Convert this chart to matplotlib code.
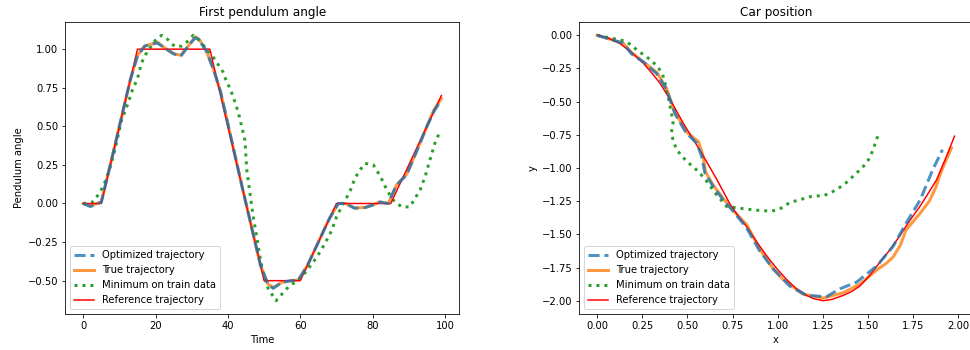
import matplotlib
matplotlib.use("Agg")
import matplotlib.pyplot as plt

# ---------------- Left panel: first pendulum angle ----------------
ref_t = [0, 5, 15, 35, 50, 60, 70, 85, 99]
ref_angle = [0, 0, 1, 1, -0.5, -0.5, 0, 0, 0.7]

opt_t = [0, 2, 5, 8, 10, 13, 15, 17, 18.5, 20.5, 23, 25, 27, 29, 31, 32, 34, 36,
         38, 41, 44, 47, 49, 51, 52.5, 55, 57.5, 59.5, 62, 65, 68, 70.5, 72.5, 75,
         78, 80, 82, 84.3, 86.6, 89.4, 92, 95, 97, 99]
opt_angle = [0, -0.02, 0.01, 0.3, 0.5, 0.8, 0.957, 1.02, 1.03, 1.04, 1.0, 0.97,
             0.955, 1.02, 1.075, 1.06, 0.99, 0.87, 0.72, 0.41, 0.1, -0.2, -0.4,
             -0.52, -0.55, -0.51, -0.5, -0.495, -0.4, -0.25, -0.1, 0.0, 0.0, -0.03,
             -0.026, -0.01, 0.01, 0.0, 0.12, 0.185, 0.33, 0.5, 0.6, 0.67]

true_t = opt_t
true_angle = [0, -0.015, 0.01, 0.3, 0.5, 0.8, 0.96, 1.02, 1.03, 1.045, 1.0, 0.97,
              0.96, 1.02, 1.08, 1.065, 0.99, 0.87, 0.72, 0.41, 0.1, -0.2, -0.4,
              -0.52, -0.545, -0.51, -0.5, -0.495, -0.4, -0.25, -0.1, 0.0, 0.0, -0.03,
              -0.025, -0.01, 0.01, 0.0, 0.12, 0.19, 0.33, 0.5, 0.61, 0.68]

min_t = [0, 2.3, 4.1, 5.5, 7, 8.8, 10.6, 12.4, 13.8, 14.9, 16.1, 17.3, 19.8, 21.7,
         23.5, 25.3, 27.2, 29, 30.4, 31.8, 34.1, 36, 37.3, 38.7, 39.6, 40.7, 41.9,
         42.9, 43.8, 44.7, 45.2, 46.1, 47, 48, 48.9, 49.8, 51.1, 53.3, 55.3, 57.1,
         59.4, 61.8, 64.5, 66.8, 68.7, 70, 71.9, 73.7, 75.1, 76.5, 77.9, 80.2,
         81.6, 82.9, 83.9, 85.7, 88, 90.3, 91.7, 93.1, 94.5, 95.8, 97.2, 98.6]
min_angle = [0, 0.004, 0.054, 0.109, 0.2, 0.35, 0.54, 0.65, 0.75, 0.8, 0.91, 0.967,
             1.054, 1.09, 1.06, 1.017, 1.02, 1.054, 1.09, 1.065, 1.0, 0.946, 0.9,
             0.85, 0.79, 0.74, 0.66, 0.587, 0.5, 0.41, 0.22, 0.065, -0.087, -0.22,
             -0.35, -0.46, -0.55, -0.63, -0.577, -0.53, -0.5, -0.435, -0.35, -0.26,
             -0.174, -0.087, 0.0, 0.076, 0.163, 0.217, 0.26, 0.25, 0.196, 0.141,
             0.087, 0.022, -0.022, -0.022, 0.033, 0.087, 0.174, 0.28, 0.39, 0.467]

# ---------------- Right panel: car position ----------------
ref_x = [0, 0.06, 0.126, 0.19, 0.255, 0.30, 0.347, 0.40, 0.48, 0.578, 0.66, 0.735,
         0.78, 0.827, 0.88, 0.938, 0.99, 1.049, 1.10, 1.16, 1.2, 1.252, 1.30,
         1.363, 1.41, 1.455, 1.51, 1.566, 1.62, 1.677, 1.73, 1.788, 1.83, 1.88,
         1.93, 1.98]
ref_y = [0, -0.02, -0.0625, -0.13, -0.21, -0.28, -0.36, -0.475, -0.67, -0.887,
         -1.08, -1.27, -1.36, -1.44, -1.55, -1.66, -1.75, -1.84, -1.905, -1.96,
         -1.985, -2.0, -1.99, -1.96, -1.93, -1.89, -1.81, -1.71, -1.62, -1.51,
         -1.40, -1.29, -1.20, -1.09, -0.93, -0.76]

opt_x = [0, 0.144, 0.19, 0.255, 0.33, 0.384, 0.43, 0.495, 0.55, 0.578, 0.597,
         0.643, 0.698, 0.753, 0.827, 0.90, 0.975, 1.067, 1.16, 1.27, 1.345, 1.437,
         1.548, 1.64, 1.714, 1.79, 1.86, 1.913]
opt_y = [0, -0.06, -0.14, -0.2, -0.29, -0.41, -0.59, -0.74, -0.81, -0.91, -1.04,
         -1.14, -1.24, -1.325, -1.45, -1.625, -1.76, -1.89, -1.96, -1.97, -1.91,
         -1.86, -1.74, -1.59, -1.41, -1.24, -1.01, -0.863]

true_x = [0, 0.144, 0.19, 0.255, 0.33, 0.384, 0.43, 0.495, 0.56, 0.585, 0.60,
          0.643, 0.698, 0.753, 0.83, 0.90, 0.975, 1.03, 1.14, 1.252, 1.363, 1.455,
          1.557, 1.60, 1.64, 1.68, 1.71, 1.74, 1.79, 1.84, 1.875, 1.90, 1.93, 1.963]
true_y = [0, -0.06, -0.13, -0.2, -0.28, -0.40, -0.58, -0.73, -0.80, -0.90, -1.03,
          -1.13, -1.23, -1.32, -1.43, -1.61, -1.76, -1.84, -1.95, -1.98, -1.94,
          -1.875, -1.76, -1.72, -1.67, -1.58, -1.47, -1.42, -1.34, -1.25, -1.15,
          -1.05, -0.95, -0.85]

min_x = [0, 0.153, 0.19, 0.227, 0.27, 0.307, 0.338, 0.362, 0.375, 0.384, 0.397,
         0.41, 0.42, 0.41, 0.425, 0.44, 0.468, 0.504, 0.54, 0.575, 0.606, 0.66,
         0.717, 0.772, 0.827, 0.9, 0.966, 1.01, 1.067, 1.12, 1.197, 1.25, 1.29,
         1.34, 1.38, 1.436, 1.48, 1.51, 1.529, 1.544, 1.557]
min_y = [0, -0.043, -0.075, -0.12, -0.158, -0.2, -0.243, -0.295, -0.357, -0.425,
         -0.49, -0.58, -0.66, -0.74, -0.81, -0.86, -0.91, -0.96, -1.0, -1.05, -1.1,
         -1.2, -1.29, -1.3, -1.31, -1.32, -1.325, -1.31, -1.26, -1.24, -1.21,
         -1.21, -1.19, -1.15, -1.11, -1.04, -0.98, -0.925, -0.86, -0.8, -0.75]

labels = ["Optimized trajectory", "True trajectory", "Minimum on train data",
          "Reference trajectory"]

fig = plt.figure(figsize=(970 / 72, 350 / 72), dpi=72)
ax1 = fig.add_axes([65.3 / 970, 1 - 314 / 350, 394 / 970, 292 / 350])
ax2 = fig.add_axes([579.4 / 970, 1 - 314 / 350, 393 / 970, 292 / 350])


def draw(ax, ox, oy, tx, ty, mx, my, rx, ry):
    ax.plot(ox, oy, "--", color="tab:blue", lw=3, alpha=0.8, label=labels[0], zorder=5)
    ax.plot(tx, ty, "-", color="tab:orange", lw=3, alpha=0.8, label=labels[1], zorder=2)
    ax.plot(mx, my, ":", color="tab:green", lw=3, label=labels[2], zorder=3)
    ax.plot(rx, ry, "-", color="red", lw=1.5, label=labels[3], zorder=4)
    ax.legend(loc="lower left")


draw(ax1, opt_t, opt_angle, true_t, true_angle, min_t, min_angle, ref_t, ref_angle)
ax1.set_title("First pendulum angle")
ax1.set_xlabel("Time")
ax1.set_ylabel("Pendulum angle")

draw(ax2, opt_x, opt_y, true_x, true_y, min_x, min_y, ref_x, ref_y)
ax2.set_title("Car position")
ax2.set_xlabel("x")
ax2.set_ylabel("y")

fig.savefig("out.png", dpi=72)
